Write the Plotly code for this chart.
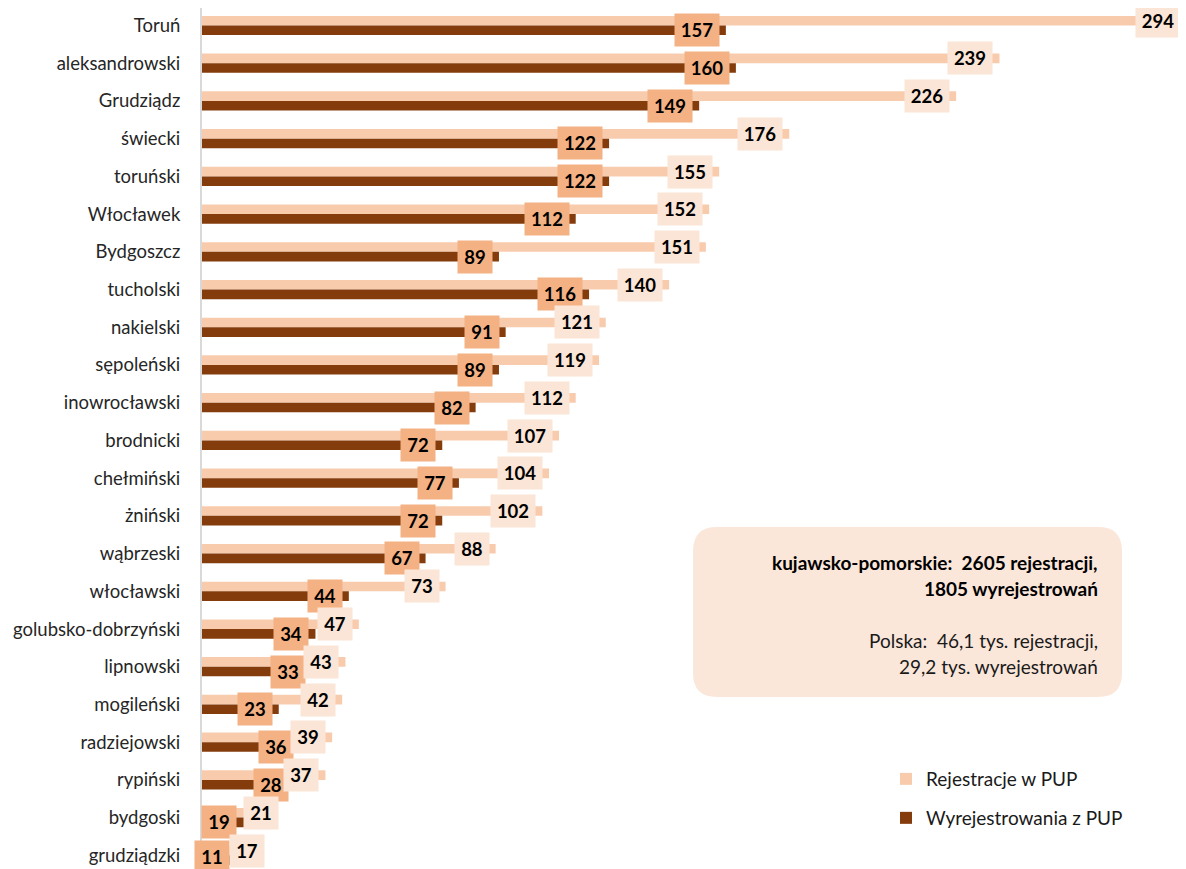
import plotly.graph_objects as go

# ---------------- data ----------------
categories = ["Toruń", "aleksandrowski", "Grudziądz", "świecki", "toruński", "Włocławek",
              "Bydgoszcz", "tucholski", "nakielski", "sępoleński", "inowrocławski",
              "brodnicki", "chełmiński", "żniński", "wąbrzeski", "włocławski",
              "golubsko-dobrzyński", "lipnowski", "mogileński", "radziejowski",
              "rypiński", "bydgoski", "grudziądzki"]
rejestracje = [294, 239, 226, 176, 155, 152, 151, 140, 121, 119, 112, 107, 104, 102,
               88, 73, 47, 43, 42, 39, 37, 21, 17]
wyrejestrowania = [157, 160, 149, 122, 122, 112, 89, 116, 91, 89, 82, 72, 77, 72,
                   67, 44, 34, 33, 23, 36, 28, 19, 11]
series_names = ["Rejestracje w PUP", "Wyrejestrowania z PUP"]
box_lines_bold = ["kujawsko-pomorskie:  2605 rejestracji,", "1805 wyrejestrowań"]
box_lines_regular = ["Polska:  46,1 tys. rejestracji,", "29,2 tys. wyrejestrowań"]

# manual label nudges (pixels), as in the original
nudge_light = {"bydgoski": 13, "grudziądzki": 12, "Toruń": 4}
nudge_dark = {"radziejowski": -22, "bydgoski": -22, "grudziądzki": -3}
nudge_dark_y = {"grudziądzki": 3}

# ---------------- style ----------------
LIGHT = "#F8CBAD"
DARK = "#843C0C"
LIGHT_LBL = "#FBE5D6"
DARK_LBL = "#F4B183"
FONT = "Lato"
OFF = 8                       # default page body margin
W, H = 1186 - OFF, 869 - OFF
ML, MR, MT, MB = 202 - OFF, 3, 0, 0
PW, PH = W - ML - MR, H - MT - MB
BAND = 37.72
FIRST_CENTER = 25.5 - OFF     # pixel of first category centre within figure
y_top = -(FIRST_CENTER - MT) / BAND
y_bot = y_top + PH / BAND

fig = go.Figure()
fig.add_trace(go.Bar(y=categories, x=rejestracje, orientation="h", name=series_names[0],
                     marker=dict(color=LIGHT, line=dict(width=0)),
                     width=0.255, offset=-0.255, legend="legend", hoverinfo="x+y"))
fig.add_trace(go.Bar(y=categories, x=wyrejestrowania, orientation="h", name=series_names[1],
                     marker=dict(color=DARK, line=dict(width=0)),
                     width=0.255, offset=0.0, legend="legend2", hoverinfo="x+y"))

annotations = []
shift = 0.1275 * BAND


def lbl(cat, v, fill, ysh, xsh):
    return dict(x=v, y=cat, xref="x", yref="y", text=f"<b>{v}</b>", showarrow=False,
                xanchor="right", yanchor="middle", xshift=-6 + xsh, yshift=ysh,
                bgcolor=fill, width=34 if v < 100 else 44, height=32, borderpad=0,
                font=dict(family=FONT, size=18.5, color="#000000"), align="center")


for c, v in zip(categories, wyrejestrowania):
    annotations.append(lbl(c, v, DARK_LBL, -shift + nudge_dark_y.get(c, 0), nudge_dark.get(c, 0)))
for c, v in zip(categories, rejestracje):
    annotations.append(lbl(c, v, LIGHT_LBL, shift, nudge_light.get(c, 0)))


def px2paper(px, py):
    """reference-screen pixel -> paper coordinates"""
    fx, fy = px - OFF, py - OFF
    return (fx - ML) / PW, 1 - (fy - MT) / PH


# info box text (right aligned)
right_px = 1100
for i, t in enumerate(box_lines_bold):
    x, y = px2paper(right_px, 562 + 26 * i)
    annotations.append(dict(x=x, y=y, xref="paper", yref="paper", text=f"<b>{t}</b>",
                            showarrow=False, xanchor="right", yanchor="middle",
                            font=dict(family=FONT, size=19, color="#000000")))
for i, t in enumerate(box_lines_regular):
    x, y = px2paper(right_px, 640 + 26 * i)
    annotations.append(dict(x=x, y=y, xref="paper", yref="paper", text=t,
                            showarrow=False, xanchor="right", yanchor="middle",
                            font=dict(family=FONT, size=19, color="#1a1a1a")))

# rounded rectangle for the info box
bx0, by0, bx1, by1, r = 693, 527, 1122, 697, 24


def P(px, py):
    x, y = px2paper(px, py)
    return f"{x:.5f},{y:.5f}"


path = (f"M{P(bx0 + r, by0)} L{P(bx1 - r, by0)} Q{P(bx1, by0)} {P(bx1, by0 + r)} "
        f"L{P(bx1, by1 - r)} Q{P(bx1, by1)} {P(bx1 - r, by1)} "
        f"L{P(bx0 + r, by1)} Q{P(bx0, by1)} {P(bx0, by1 - r)} "
        f"L{P(bx0, by0 + r)} Q{P(bx0, by0)} {P(bx0 + r, by0)} Z")

leg_x = px2paper(886, 0)[0]
fig.update_layout(
    width=W, height=H,
    margin=dict(l=ML, r=MR, t=MT, b=MB, pad=0, autoexpand=False),
    paper_bgcolor="white", plot_bgcolor="white",
    barmode="overlay",
    font=dict(family=FONT, size=18, color="#262626"),
    xaxis=dict(range=[0, 294], visible=False, fixedrange=True, automargin=False),
    yaxis=dict(type="category", range=[y_bot, y_top], showgrid=False,
               showline=True, linecolor="#D9D9D9", linewidth=2, ticks="",
               ticklabelstandoff=16, tickfont=dict(family=FONT, size=18.5, color="#262626"),
               fixedrange=True, automargin=False),
    annotations=annotations,
    shapes=[dict(type="path", path=path, xref="paper", yref="paper",
                 fillcolor="#FBE7DA", line=dict(width=0), layer="below")],
    showlegend=True,
    legend=dict(x=leg_x, y=px2paper(0, 779)[1], xanchor="left", yanchor="middle",
                bgcolor="rgba(0,0,0,0)", font=dict(family=FONT, size=19, color="#1a1a1a"),
                itemwidth=30, traceorder="normal"),
    legend2=dict(x=leg_x, y=px2paper(0, 818)[1], xanchor="left", yanchor="middle",
                 bgcolor="rgba(0,0,0,0)", font=dict(family=FONT, size=19, color="#1a1a1a"),
                 itemwidth=30, traceorder="normal"),
)

fig.write_html("out.html")
